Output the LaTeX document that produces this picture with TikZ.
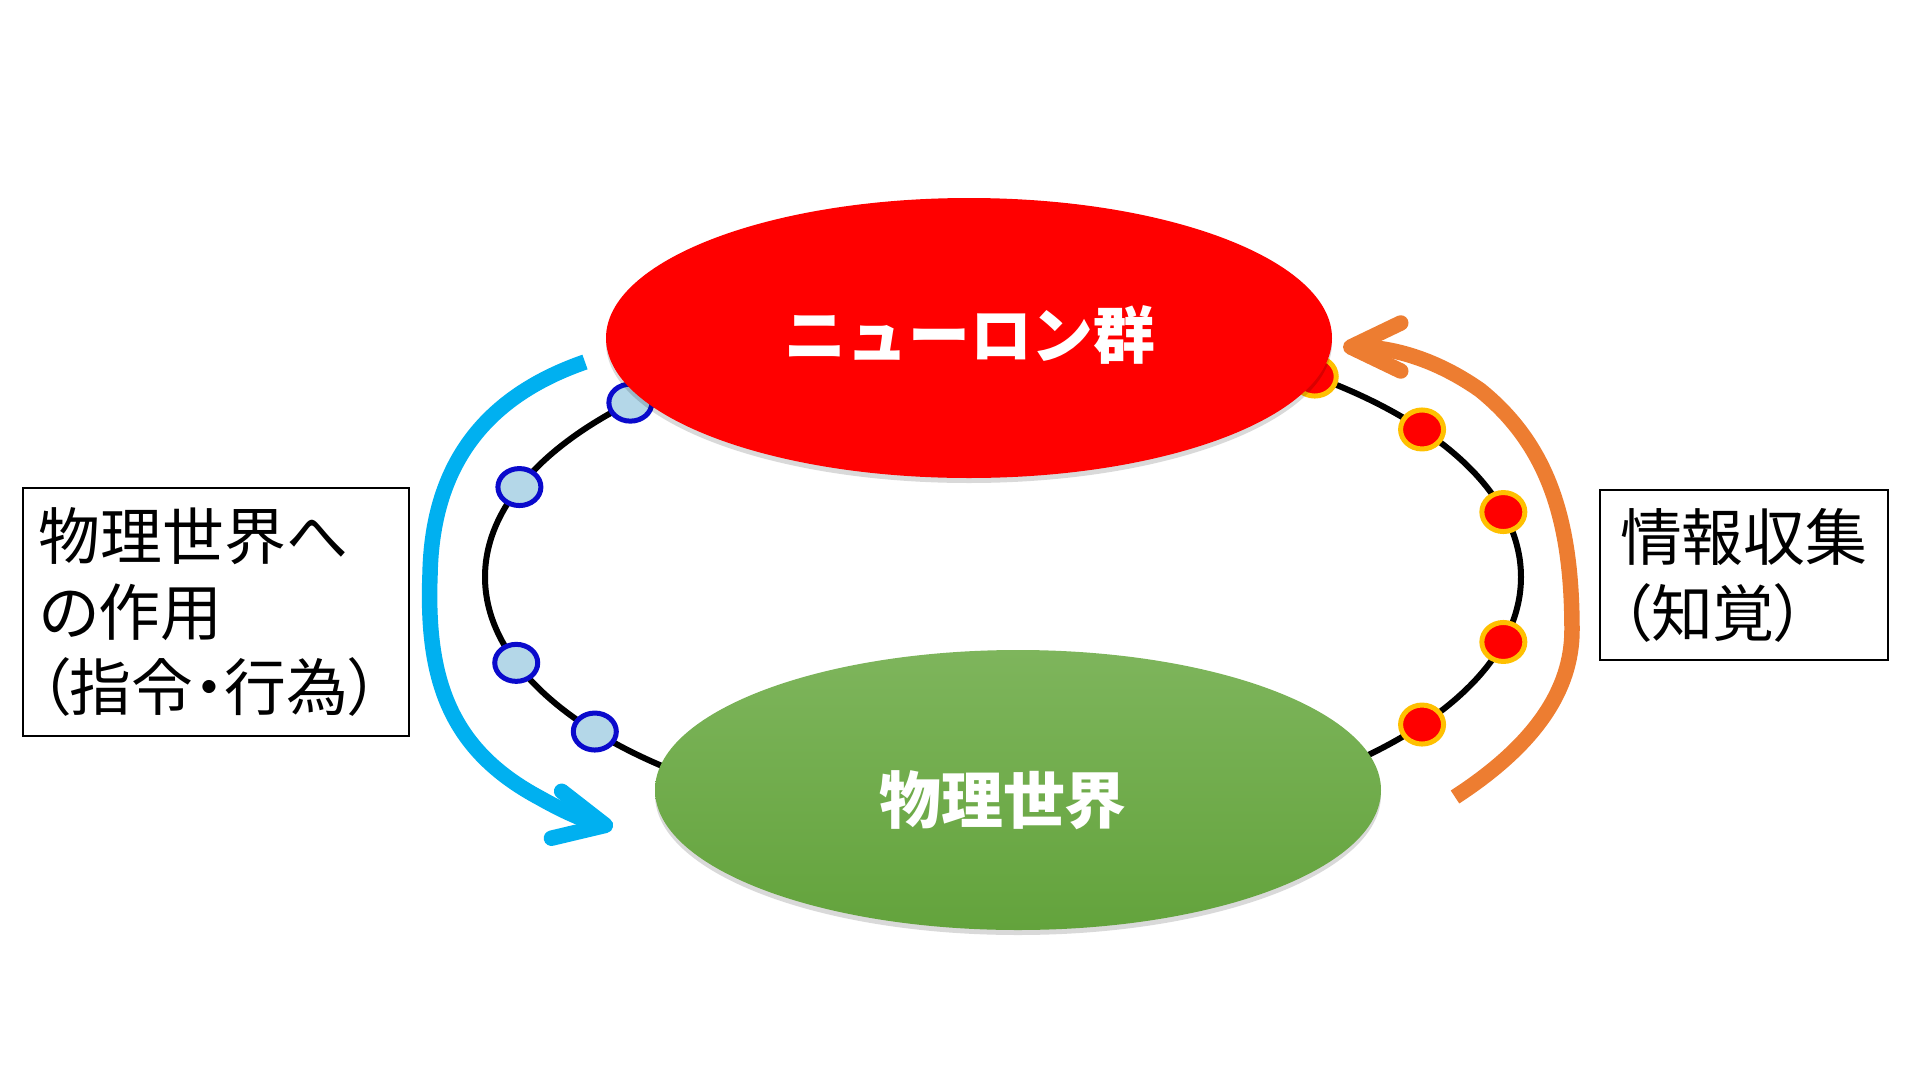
\documentclass[tikz,border=0pt]{standalone}
\usepackage{fontspec}
\newfontfamily\jpfont{Noto Sans CJK JP}
\newfontfamily\jpfontp{Noto Sans CJK JP}[RawFeature=+palt]
\usepackage{tikz}
\usetikzlibrary{arrows.meta,positioning,shapes.geometric,shadows,calc}

\definecolor{neuronred}{HTML}{FF0000}
\definecolor{worldtop}{HTML}{7EB55C}
\definecolor{worldbot}{HTML}{63A33C}
\definecolor{dotblue}{HTML}{B4D7E8}
\definecolor{dotedge}{HTML}{0A0ACC}
\definecolor{dotgold}{HTML}{FFC000}
\definecolor{actcyan}{HTML}{00B0F0}
\definecolor{perorange}{HTML}{ED7D31}

\begin{document}
\begin{tikzpicture}[
    x=0.1mm,
    y=0.1mm,
    blob/.style={ellipse, inner sep=0pt, minimum width=72.6mm, minimum height=28mm,
      drop shadow={shadow xshift=0mm, shadow yshift=-0.5mm, opacity=0.15, fill=black}},
    blobtext/.style={text=white, inner sep=0pt, font=\jpfont\bfseries\fontsize{17.6pt}{21.6pt}\selectfont},
    ringline/.style={line width=0.6mm, black},
    bluedot/.style={ellipse, draw=dotedge, fill=dotblue, line width=0.5mm, inner sep=0pt,
      minimum width=4.3mm, minimum height=3.7mm},
    reddot/.style={ellipse, draw=dotgold, fill=neuronred, line width=0.5mm, inner sep=0pt,
      minimum width=4.3mm, minimum height=3.9mm},
    flow/.style={line width=1.55mm, -{Straight Barb[round, length=5mm, width=4.8mm]}},
    infobox/.style={draw, line width=0.2mm, anchor=north west, align=left, inner ysep=0pt,
      font=\jpfontp\fontsize{17.6pt}{21.6pt}\selectfont}
  ]
    \useasboundingbox (0,0) rectangle (1920,1080);

    % ring between the two worlds
    \coordinate (ring) at (1003,503);
    \draw[ringline] (ring) ellipse [x radius=51.8mm, y radius=25.1mm];

    % acting side
    \node[bluedot] (a1) at ($(ring)+(136:518 and 251)$) {};
    \node[bluedot] (a2) at ($(ring)+(159:518 and 251)$) {};
    \node[bluedot] (a3) at ($(ring)+(200:518 and 251)$) {};
    \node[bluedot] (a4) at ($(ring)+(218:518 and 251)$) {};

    % sensing side
    \node[reddot] (p1) at ($(ring)+(53:518 and 251)$) {};
    \node[reddot] (p2) at ($(ring)+(36:518 and 251)$) {};
    \node[reddot] (p3) at ($(ring)+(15:518 and 251)$) {};
    \node[reddot] (p4) at ($(ring)+(-15:518 and 251)$) {};
    \node[reddot] (p5) at ($(ring)+(-36:518 and 251)$) {};

    % the two worlds
    \node[blob, fill=neuronred] (neurons) at (969,742) {};
    \node[blobtext] (neuronslab) at (970,745) {ニューロン群};
    \node[blob, top color=worldtop, bottom color=worldbot] (world) at (1018,290) {};
    \node[blobtext] (worldlab) at (1003,280) {物理世界};

    % arrows
    \coordinate (actstart) at (585,718);
    \coordinate (acttip) at (613,253);
    \draw[flow, actcyan] (actstart) .. controls (490,685) and (432,620) .. (430,505)
      .. controls (426,400) and (450,330) .. (540,282)
      .. controls (570,265) and (590,258) .. (acttip);

    \coordinate (perstart) at (1455,283);
    \coordinate (pertip) at (1343,733);
    \draw[flow, perorange] (perstart) .. controls (1535,335) and (1572,390) .. (1572,450)
      .. controls (1572,560) and (1548,635) .. (1480,690)
      .. controls (1430,725) and (1385,733) .. (pertip);

    % labels
    \node[infobox, text width=35.4mm, inner xsep=1.6mm, minimum height=24.8mm] (act) at (22,593)
      {物理世界へ\\の作用\\（指令・行為）};
    \node[infobox, text width=24.8mm, inner xsep=2mm, minimum height=17mm] (per) at (1599,591)
      {情報収集\\（知覚）};
  \end{tikzpicture}
\end{document}
